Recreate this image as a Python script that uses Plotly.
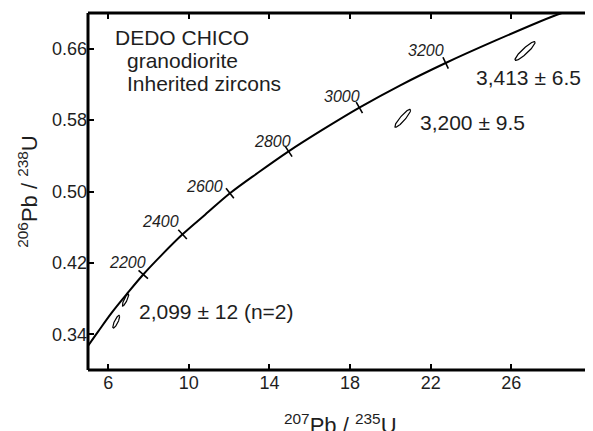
import numpy as np
import plotly.graph_objects as go

# Concordia curve points (207Pb/235U, 206Pb/238U)
conc_x = [5.00, 5.50, 6.17, 6.92, 7.74, 8.66, 9.69, 10.81, 12.04, 13.43,
          14.95, 16.62, 18.46, 20.49, 22.74, 25.20, 27.91, 28.50]
conc_y = [0.327, 0.343, 0.364, 0.385, 0.407, 0.429, 0.452, 0.474, 0.498, 0.521,
          0.545, 0.569, 0.594, 0.619, 0.644, 0.669, 0.695, 0.700]

# Age ticks on the concordia (Ma)
age_labels = ["2200", "2400", "2600", "2800", "3000", "3200"]
age_x = [7.74, 9.69, 12.04, 14.95, 18.46, 22.74]
age_y = [0.407, 0.452, 0.498, 0.545, 0.594, 0.644]

# Error ellipses: centre, half-extent in x and y, correlation
ell_cx = [26.68, 20.61, 6.86, 6.40]
ell_cy = [0.6574, 0.5820, 0.3784, 0.3541]
ell_sx = [0.50, 0.39, 0.16, 0.17]
ell_sy = [0.0105, 0.0100, 0.0069, 0.0071]
ell_rho = [0.92, 0.91, 0.86, 0.82]

# Text
sample_lines = ["DEDO CHICO", "granodiorite", "Inherited zircons"]
age_results = ["3,413 ± 6.5", "3,200 ± 9.5", "2,099 ± 12 (n=2)"]
res_x = [24.15, 21.35, 7.45]
res_y = [0.6277, 0.5768, 0.3655]
x_title = "<sup>207</sup>Pb / <sup>235</sup>U"
y_title = "<sup>206</sup>Pb / <sup>238</sup>U"

x_ticks = [6, 10, 14, 18, 22, 26]
y_ticks = [0.34, 0.42, 0.50, 0.58, 0.66]

X_RANGE = [5, 30]
Y_RANGE = [0.30, 0.70]
# page body has an 8px margin, so the figure is sized/offset to compensate
W, H = 585, 423
ML, MR, MT, MB = 80, 1, 5, 61
FONT = "Liberation Sans, Arial, sans-serif"
TXT = "#1e1e1e"

fig = go.Figure()

# concordia
fig.add_trace(go.Scatter(x=conc_x, y=conc_y, mode="lines",
                         line=dict(color="black", width=2, shape="spline"),
                         hoverinfo="skip", showlegend=False))

# tick orientation perpendicular to curve (in pixel space)
pxs = (W - ML - MR) / (X_RANGE[1] - X_RANGE[0])
pys = (H - MT - MB) / (Y_RANGE[1] - Y_RANGE[0])
cx = np.array(conc_x) * pxs
cy = np.array(conc_y) * pys
dx = np.gradient(cx)
dy = np.gradient(cy)
angles = []
for ax_, ay_ in zip(age_x, age_y):
    i = int(np.argmin(np.abs(np.array(conc_x) - ax_)))
    a = np.degrees(np.arctan2(dy[i], dx[i]))
    angles.append(-a)

fig.add_trace(go.Scatter(x=age_x, y=age_y, mode="markers",
                         marker=dict(symbol="line-ns", size=9, angle=angles,
                                     line=dict(color="black", width=1.6)),
                         hoverinfo="skip", showlegend=False))

# ellipses
t = np.linspace(0, 2 * np.pi, 120)
for x0, y0, sx, sy, r in zip(ell_cx, ell_cy, ell_sx, ell_sy, ell_rho):
    ex = x0 + sx * np.cos(t)
    ey = y0 + sy * (r * np.cos(t) + np.sqrt(1 - r * r) * np.sin(t))
    fig.add_trace(go.Scatter(x=ex, y=ey, mode="lines", fill="toself",
                             fillcolor="white",
                             line=dict(color="black", width=1.2),
                             hoverinfo="skip", showlegend=False))

annotations = []
# sample description
sample_pos = [(6.24, 0.6725), (6.835, 0.6468), (6.835, 0.6210)]
for txt, (xx, yy) in zip(sample_lines, sample_pos):
    annotations.append(dict(x=xx, y=yy, xref="x", yref="y", text=txt,
                            showarrow=False, xanchor="left", yanchor="middle",
                            font=dict(family=FONT, size=21, color=TXT)))
# age results
for txt, xx, yy in zip(age_results, res_x, res_y):
    annotations.append(dict(x=xx, y=yy, xref="x", yref="y", text=txt,
                            showarrow=False, xanchor="left", yanchor="middle",
                            font=dict(family=FONT, size=21, color=TXT)))
# age labels on concordia
shifts = [(-16, 12), (-22, 13), (-25, 7), (-16, 10), (-17, 11), (-20, 12)]
for lab, xx, yy, (xs, ys) in zip(age_labels, age_x, age_y, shifts):
    annotations.append(dict(x=xx, y=yy, xref="x", yref="y",
                            text="<i>" + lab + "</i>", showarrow=False,
                            xanchor="center", yanchor="middle",
                            xshift=xs, yshift=ys,
                            font=dict(family=FONT, size=16, color=TXT)))
# x-axis title (sits low, partly cut by the bottom edge as in the original)
annotations.append(dict(x=0.5, y=0, xref="paper", yref="paper", text=x_title,
                        showarrow=False, xanchor="center", yanchor="top",
                        yshift=-38,
                        font=dict(family=FONT, size=22, color=TXT)))

# frame drawn centred on the plot-area edges
frame = [
    dict(type="line", xref="paper", yref="paper", x0=0, x1=0, y0=0, y1=1,
         line=dict(color="black", width=3), layer="above"),
    dict(type="line", xref="paper", yref="paper", x0=0, x1=1, y0=0, y1=0,
         line=dict(color="black", width=3), layer="above"),
    dict(type="line", xref="paper", yref="paper", x0=0, x1=1, y0=1, y1=1,
         line=dict(color="black", width=3), layer="above"),
    dict(type="line", xref="paper", yref="paper", x0=1, x1=1, y0=0, y1=1,
         line=dict(color="black", width=2.5), layer="above"),
]

fig.update_layout(
    width=W, height=H,
    margin=dict(l=ML, r=MR, t=MT, b=MB),
    paper_bgcolor="white", plot_bgcolor="white",
    showlegend=False,
    annotations=annotations,
    shapes=frame,
    xaxis=dict(range=X_RANGE, tickvals=x_ticks, ticktext=[str(v) for v in x_ticks],
               ticks="inside", ticklen=6, tickwidth=2, tickcolor="black",
               showline=False, mirror="ticks",
               showgrid=False, zeroline=False, automargin=False,
               tickfont=dict(family=FONT, size=18, color=TXT)),
    yaxis=dict(range=Y_RANGE, tickvals=y_ticks, ticktext=["%.2f" % v for v in y_ticks],
               ticks="inside", ticklen=6, tickwidth=2, tickcolor="black",
               showline=False, mirror="ticks",
               showgrid=False, zeroline=False, automargin=False,
               tickfont=dict(family=FONT, size=18, color=TXT),
               title=dict(text=y_title,
                          font=dict(family=FONT, size=22, color=TXT), standoff=8)),
)

fig.write_html("out.html")
